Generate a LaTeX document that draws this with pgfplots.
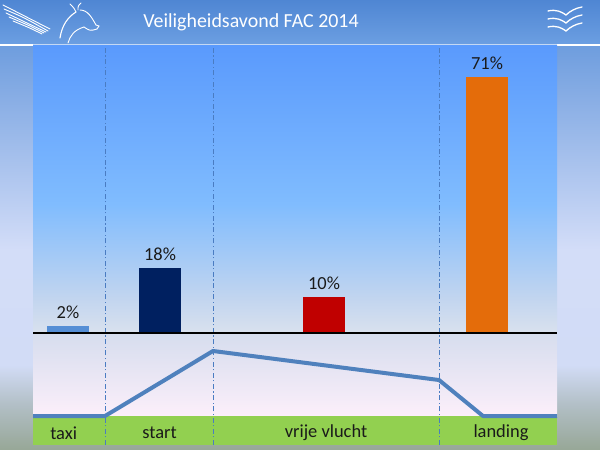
\documentclass[border=0pt]{standalone}
\usepackage{pgfplots}
\pgfplotsset{compat=1.18}
\usepackage{fontspec}
\setmainfont{Carlito}
\definecolor{hdrA}{HTML}{4F86D3}
\definecolor{hdrB}{HTML}{6C9FE2}
\definecolor{oA}{HTML}{6E9DDE}
\definecolor{oB}{HTML}{D3DDF8}
\definecolor{oC}{HTML}{D2DCF6}
\definecolor{oD}{HTML}{B2BFC6}
\definecolor{oE}{HTML}{97A797}
\definecolor{pA}{HTML}{5A9AFD}
\definecolor{pB}{HTML}{80BCFE}
\definecolor{pC}{HTML}{C2D5EF}
\definecolor{pD}{HTML}{D9E1EE}
\definecolor{qA}{HTML}{D6DDEE}
\definecolor{qB}{HTML}{FCEFFA}
\definecolor{grass}{HTML}{92D050}
\definecolor{lineblue}{HTML}{4F81BD}
\definecolor{taxiC}{HTML}{558ED5}
\definecolor{startC}{HTML}{002060}
\definecolor{vrijC}{HTML}{C00000}
\definecolor{landC}{HTML}{E46C0A}
\definecolor{divC}{HTML}{4A7CC2}
\definecolor{txt}{HTML}{1A1A1A}
\pgfdeclareverticalshading{outerbg}{100bp}{color(0bp)=(oE); color(25bp)=(oE); color(30.6bp)=(oD); color(35.5bp)=(oC); color(49.7bp)=(oB); color(75bp)=(oA); color(100bp)=(oA)}
\pgfdeclareverticalshading{panelbg}{100bp}{color(0bp)=(pD); color(25bp)=(pD); color(31bp)=(pC); color(47.5bp)=(pB); color(75bp)=(pA); color(100bp)=(pA)}
\begin{document}
\begin{tikzpicture}[x=1bp,y=1bp]
\useasboundingbox (0,0) rectangle (600,450);
% outer background
\shade[shading=outerbg] (0,0) rectangle (600,405);
\shade[top color=hdrA,bottom color=hdrB] (0,405) rectangle (600,450);
\draw[white!60!hdrB,line width=1.2bp] (0,405)--(600,405);
\draw[white,line width=1.4bp] (0,405)--(33,405) (557,405)--(600,405);
\node[white,font=\fontsize{20}{24}\selectfont] at (251,428) {Veiligheidsavond FAC 2014};
% pegasus logo (decoration)
\begin{scope}[white,line width=0.9bp,line cap=round]
\draw (3,445) -- (50,421);
\draw (4,441) .. controls (25,432) .. (48,419);
\draw (6,437) .. controls (26,428) .. (46,418);
\draw (9,433) .. controls (28,425) .. (44,417);
\draw (13,429) .. controls (30,422) .. (42,416);
\draw[line width=1.1bp] (60,412) .. controls (62,425) and (68,433) .. (76,438);
\draw (76,438) .. controls (74,442) .. (70,446);
\draw (78,440) .. controls (78,444) .. (81,447);
\draw (80,440) .. controls (88,440) and (92,432) .. (96,425);
\draw (96,425) -- (99,424) -- (97,421);
\draw (97,421) .. controls (90,419) .. (84,423);
\draw (84,423) .. controls (74,420) and (70,414) .. (68,407);
\end{scope}
% birds logo (decoration)
\begin{scope}[white,line width=1.3bp,line cap=round]
\draw (548,439) .. controls (556,441) and (562,438) .. (566,435) .. controls (570,439) and (576,442) .. (582,443);
\draw (548,431) .. controls (556,433) and (562,430) .. (566,427) .. controls (570,431) and (576,434) .. (582,435);
\draw (548,423) .. controls (556,425) and (562,422) .. (566,419) .. controls (570,423) and (576,426) .. (582,427);
\end{scope}
% panel
\shade[shading=panelbg] (33,117) rectangle (557,404);
\shade[top color=qA,bottom color=qB] (33,33.5) rectangle (557,117);
\fill[grass] (33,5) rectangle (557,33.5);
\begin{axis}[at={(33bp,5bp)},anchor=south west,scale only axis,
  width=524bp,height=399bp,
  xmin=33,xmax=557,ymin=-31.11,ymax=79.72,
  axis line style={draw=none},
  ytick=\empty,
  xtick={63.7,159.5,326,501},
  xticklabels={taxi,start,vrije vlucht,landing},
  major tick length=0pt,
  xticklabel style={anchor=center,yshift=12bp,font=\fontsize{18.5}{22}\selectfont,text=txt},
  /pgf/number format/assume math mode=true,
  clip=false,
  every node near coord/.append style={font=\fontsize{18.5}{22}\selectfont,text=txt,yshift=4bp},
  ]
% phase dividers
\addplot[divC,line width=1bp,dash pattern=on 5bp off 2.5bp on 1.2bp off 2.5bp] coordinates {(105,-31.11) (105,79.72)};
\addplot[divC,line width=1bp,dash pattern=on 5bp off 2.5bp on 1.2bp off 2.5bp] coordinates {(213,-31.11) (213,79.72)};
\addplot[divC,line width=1bp,dash pattern=on 5bp off 2.5bp on 1.2bp off 2.5bp] coordinates {(439,-31.11) (439,79.72)};
% bars
\addplot[ybar,bar width=42,bar shift=0pt,fill=taxiC,draw=none,nodes near coords={\pgfmathprintnumber{\pgfplotspointmeta}\%}] coordinates {(68,2)};
\addplot[ybar,bar width=42,bar shift=0pt,fill=startC,draw=none,nodes near coords={\pgfmathprintnumber{\pgfplotspointmeta}\%}] coordinates {(160,18)};
\addplot[ybar,bar width=42,bar shift=0pt,fill=vrijC,draw=none,nodes near coords={\pgfmathprintnumber{\pgfplotspointmeta}\%}] coordinates {(324,10)};
\addplot[ybar,bar width=42,bar shift=0pt,fill=landC,draw=none,nodes near coords={\pgfmathprintnumber{\pgfplotspointmeta}\%}] coordinates {(487,71)};
% baseline
\addplot[black,line width=1.6bp] coordinates {(33,0) (557,0)};
% flight profile
\addplot[lineblue,line width=4bp,line join=round] coordinates {(33,-23.06) (105,-23.06) (213,-5.0) (439,-13.06) (483,-23.06) (557,-23.06)};
\end{axis}
\end{tikzpicture}
\end{document}
